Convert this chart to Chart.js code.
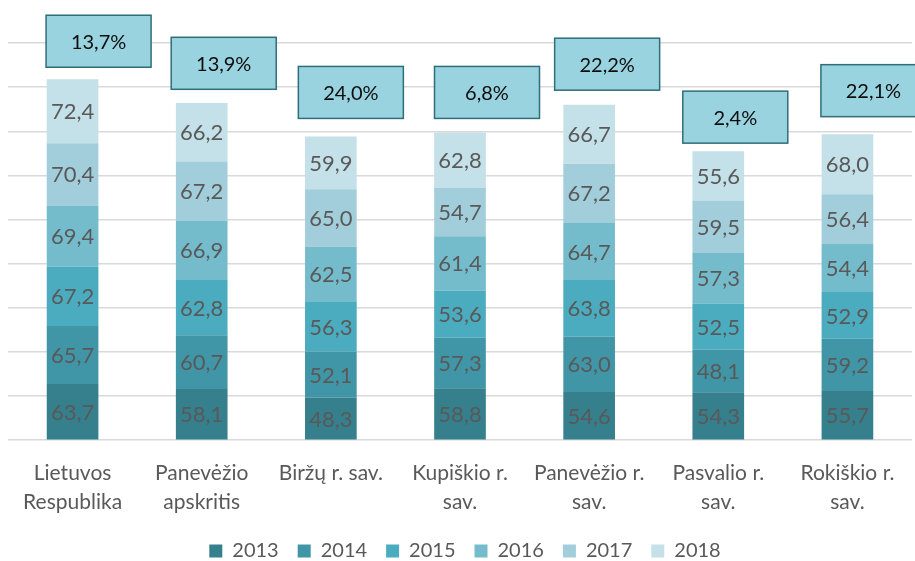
<!DOCTYPE html>
<html>
<head>
<meta charset="utf-8">
<script src="https://cdn.jsdelivr.net/npm/chart.js@4.4.1/dist/chart.umd.min.js"></script>
<style>
  html, body { margin: 0; padding: 0; background: #fff; }
</style>
</head>
<body>
<canvas id="chart" width="915" height="561"></canvas>
<script>
const categories = [
    ['Lietuvos', 'Respublika'],
    ['Panevėžio', 'apskritis'],
    'Biržų r. sav.',
    ['Kupiškio r.', 'sav.'],
    ['Panevėžio r.', 'sav.'],
    ['Pasvalio r.', 'sav.'],
    ['Rokiškio r.', 'sav.'],
]
const years = ['2013', '2014', '2015', '2016', '2017', '2018']
const values2013 = [63.7, 58.1, 48.3, 58.8, 54.6, 54.3, 55.7]
const values2014 = [65.7, 60.7, 52.1, 57.3, 63.0, 48.1, 59.2]
const values2015 = [67.2, 62.8, 56.3, 53.6, 63.8, 52.5, 52.9]
const values2016 = [69.4, 66.9, 62.5, 61.4, 64.7, 57.3, 54.4]
const values2017 = [70.4, 67.2, 65.0, 54.7, 67.2, 59.5, 56.4]
const values2018 = [72.4, 66.2, 59.9, 62.8, 66.7, 55.6, 68.0]
const changeLabels = ['13,7%', '13,9%', '24,0%', '6,8%', '22,2%', '2,4%', '22,1%']

const colors = ['#367f8c', '#4096a6', '#4bacc0', '#74bccc', '#a2cedb', '#c4e0e8']
const FONT = 'Lato, Calibri, "Open Sans", sans-serif'

// where the callout boxes sit: x shift from bar centre (px), y centre in axis units
const calloutDx = [26, 22, 20, 27, 18, 17, 26]
const calloutY = [452, 427, 394, 394, 426, 366, 396]

const allValues = [values2013, values2014, values2015, values2016, values2017, values2018]

const segmentLabels = {
    id: 'segmentLabels',
    afterDatasetsDraw(chart) {
        const ctx = chart.ctx
        ctx.save()
        ctx.font = '22px ' + FONT
        ctx.fillStyle = '#595959'
        ctx.textAlign = 'center'
        ctx.textBaseline = 'middle'
        chart.data.datasets.forEach((ds, i) => {
            chart.getDatasetMeta(i).data.forEach((bar, j) => {
                const txt = ds.data[j].toFixed(1).replace('.', ',')
                ctx.fillText(txt, bar.x, (bar.y + bar.base) / 2 + 1)
            })
        })
        ctx.restore()
    }
}

const callouts = {
    id: 'callouts',
    afterDraw(chart) {
        const ctx = chart.ctx
        const yScale = chart.scales.y
        const meta = chart.getDatasetMeta(0)
        ctx.save()
        ctx.font = '20px ' + FONT
        ctx.textAlign = 'center'
        ctx.textBaseline = 'middle'
        changeLabels.forEach((txt, j) => {
            const cx = meta.data[j].x + calloutDx[j]
            const cy = yScale.getPixelForValue(calloutY[j])
            const w = 105, h = 52
            ctx.fillStyle = '#99d3df'
            ctx.fillRect(cx - w / 2, cy - h / 2, w, h)
            ctx.strokeStyle = '#2e6e79'
            ctx.lineWidth = 1.5
            ctx.strokeRect(cx - w / 2, cy - h / 2, w, h)
            ctx.fillStyle = '#0d0d0d'
            ctx.fillText(txt, cx, cy + 1)
        })
        ctx.restore()
    }
}

// nudge the legend a little to the right, as in the original
const legendShift = {
    id: 'legendShift',
    afterLayout(chart) {
        chart.legend.left += 5
        chart.legend.right += 5
    }
}

new Chart(document.getElementById('chart'), {
    type: 'bar',
    data: {
        labels: categories,
        datasets: years.map((y, i) => ({
            label: y,
            data: allValues[i],
            backgroundColor: colors[i],
            borderWidth: 0,
            barPercentage: 1,
            categoryPercentage: 0.4,
        }))
    },
    options: {
        responsive: false,
        animation: false,
        layout: { padding: { left: 8, right: 3, top: 43, bottom: -10 } },
        scales: {
            x: {
                stacked: true,
                grid: { display: false },
                border: { display: false },
                ticks: { color: '#595959', font: { family: FONT, size: 21, lineHeight: 1.4 }, maxRotation: 0, autoSkip: false, padding: 10 },
                afterFit(scale) { scale.height -= 5 },
            },
            y: {
                stacked: true,
                min: 0,
                max: 450,
                ticks: { display: false, stepSize: 50 },
                grid: { color: '#d9d9d9', lineWidth: 1.5, drawTicks: false },
                border: { display: false },
            }
        },
        plugins: {
            legend: {
                position: 'bottom',
                labels: {
                    color: '#595959',
                    font: { family: FONT, size: 20 },
                    boxWidth: 13,
                    boxHeight: 13,
                    padding: 19,
                },
            },
            tooltip: { enabled: false },
        }
    },
    plugins: [segmentLabels, callouts, legendShift]
})
</script>
</body>
</html>
